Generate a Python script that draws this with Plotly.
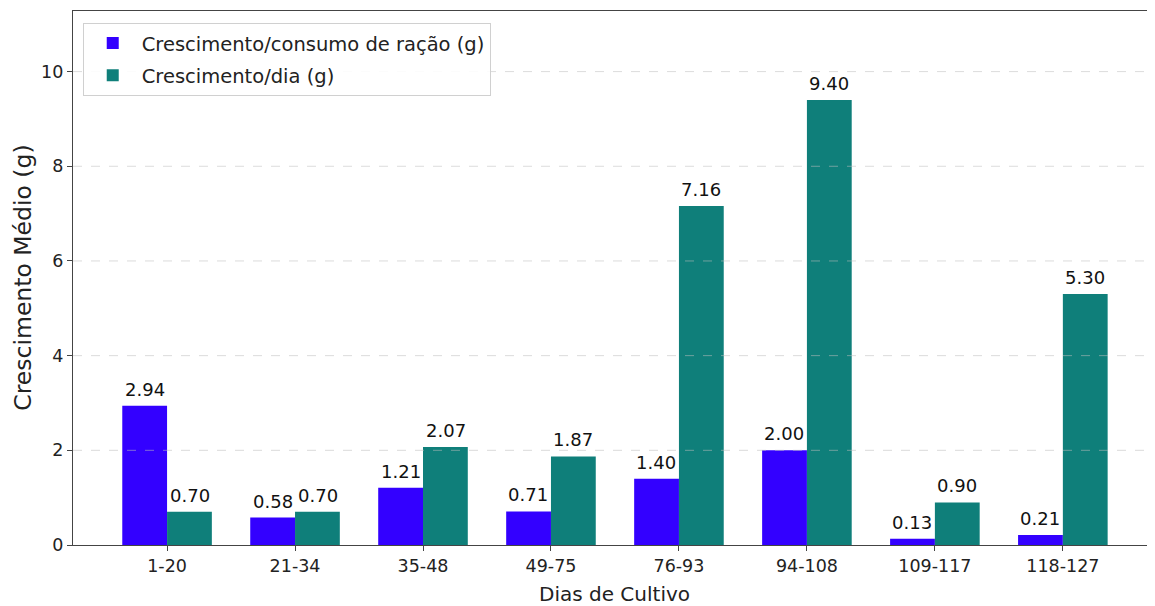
import plotly.graph_objects as go

categories = ["1-20", "21-34", "35-48", "49-75", "76-93", "94-108", "109-117", "118-127"]
crescimento_racao = [2.94, 0.58, 1.21, 0.71, 1.40, 2.00, 0.13, 0.21]
crescimento_dia = [0.70, 0.70, 2.07, 1.87, 7.16, 9.40, 0.90, 5.30]
y_ticks = [0, 2, 4, 6, 8, 10]

FONT = "DejaVu Sans"
BLUE = "#3300ff"
TEAL = "#0f7f7a"
TXT = "#222"

fig = go.Figure()
fig.add_trace(go.Bar(
    x=categories, y=crescimento_racao, name="Crescimento/consumo de ração (g)",
    marker=dict(color=BLUE, line=dict(width=0)), legendgroup="a",
))
fig.add_trace(go.Bar(
    x=categories, y=crescimento_dia, name="Crescimento/dia (g)",
    marker=dict(color=TEAL, line=dict(width=0)), legendgroup="b",
))

# value labels above each bar (offset left/right of category centre)
annotations = []
for series, shift in ((crescimento_racao, -22.5), (crescimento_dia, 22.5)):
    for cat, v in zip(categories, series):
        annotations.append(dict(
            x=cat, y=v, xref="x", yref="y", text=f"{v:.2f}", showarrow=False,
            xshift=shift, yanchor="bottom", yshift=4,
            font=dict(family=FONT, size=18, color="#111"),
        ))

annotations.append(dict(
    x=0.5, y=-0.091, xref="paper", yref="paper", text="Dias de Cultivo",
    showarrow=False, xanchor="center", yanchor="middle",
    font=dict(family=FONT, size=20, color=TXT),
))
annotations.append(dict(
    x=-0.0465, y=0.5, xref="paper", yref="paper", text="Crescimento Médio (g)",
    showarrow=False, xanchor="center", yanchor="middle", textangle=-90,
    font=dict(family=FONT, size=23.5, color=TXT),
))

# dashed y grid drawn above the bars (as in the reference)
shapes = [
    dict(type="line", xref="paper", yref="y", x0=0, x1=1, y0=t, y1=t, layer="above",
         line=dict(color="rgba(190,190,190,0.55)", width=1, dash="dash"))
    for t in y_ticks[1:]
]

ymax = max(crescimento_dia) * 1.2

# page body has an 8px default margin, so the figure is sized/placed to compensate
fig.update_layout(
    width=1147, height=598,
    margin=dict(l=65, r=0, t=3, b=61),
    paper_bgcolor="white", plot_bgcolor="white",
    barmode="group", bargap=0.3, bargroupgap=0,
    font=dict(family=FONT, color=TXT),
    showlegend=True,
    annotations=annotations,
    shapes=shapes,
    legend=dict(
        x=0.009, y=0.978, xanchor="left", yanchor="top",
        bgcolor="rgba(255,255,255,0.9)", bordercolor="#d0d0d0", borderwidth=1,
        font=dict(family=FONT, size=19.5, color=TXT),
        tracegroupgap=4, itemwidth=48,
    ),
    xaxis=dict(
        range=[-0.735, 7.72], showline=True, linecolor="#444", linewidth=1.2,
        mirror=True, ticks="outside", ticklen=5, tickcolor="#444",
        tickfont=dict(family=FONT, size=17.5, color=TXT),
        showgrid=False, zeroline=False, automargin=False,
    ),
    yaxis=dict(
        range=[0, ymax], tickvals=y_ticks, showline=True, linecolor="#444", linewidth=1.2,
        ticks="outside", ticklen=5, tickcolor="#444",
        tickfont=dict(family=FONT, size=17.5, color=TXT),
        showgrid=False, zeroline=False, automargin=False,
    ),
)

fig.write_html("out.html")
